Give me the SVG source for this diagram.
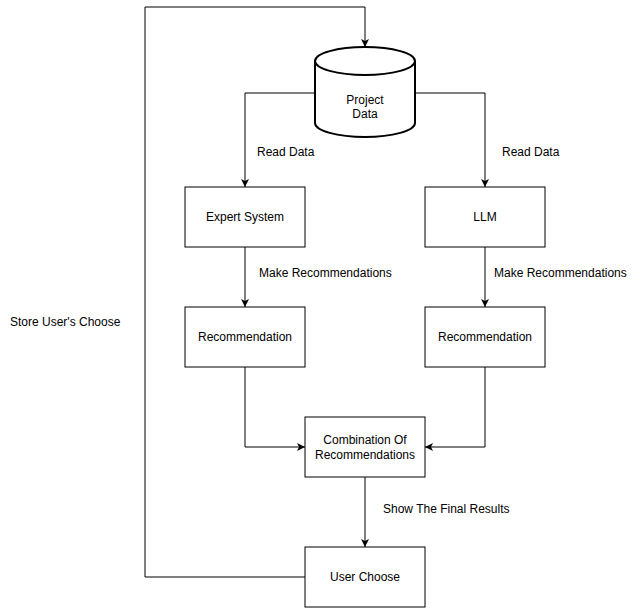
<svg xmlns="http://www.w3.org/2000/svg" width="640" height="608" viewBox="0 0 640 608">
<style>
.box{fill:#fff;stroke:#000;stroke-width:1}
.cyl{fill:#fff;stroke:#000;stroke-width:2}
.edge{fill:none;stroke:#000;stroke-width:1}
text{font-family:"Liberation Sans",Arial,sans-serif;font-size:12px;fill:#000}
.c{text-anchor:middle}
</style>
<defs>
<marker id="arr" viewBox="0 0 10 10" refX="10" refY="5" markerWidth="8" markerHeight="8" markerUnits="userSpaceOnUse" orient="auto">
<path d="M0,0 L10,5 L0,10 L2.5,5 Z" fill="#000"/>
</marker>
</defs>
<rect width="640" height="608" fill="#fff"/>
<g id="connectors">
<path class="edge" d="M305,577 H145 V7 H365 V47" marker-end="url(#arr)"/>
<path class="edge" d="M315,93 H245 V187" marker-end="url(#arr)"/>
<path class="edge" d="M415,93 H485 V187" marker-end="url(#arr)"/>
<path class="edge" d="M245,247 V307" marker-end="url(#arr)"/>
<path class="edge" d="M485,247 V307" marker-end="url(#arr)"/>
<path class="edge" d="M245,367 V447 H305" marker-end="url(#arr)"/>
<path class="edge" d="M485,367 V447 H425" marker-end="url(#arr)"/>
<path class="edge" d="M365,477 V547" marker-end="url(#arr)"/>
<text x="257" y="156">Read Data</text>
<text x="502" y="156">Read Data</text>
<text x="259" y="277">Make Recommendations</text>
<text x="494" y="277">Make Recommendations</text>
<text x="383" y="513">Show The Final Results</text>
<text x="10" y="326">Store User's Choose</text>
</g>
<g id="project-data">
<path class="cyl" d="M315,61 A50,14 0 0 1 415,61 V123 A50,14 0 0 1 315,123 Z"/>
<path class="cyl" d="M315,61 A50,14 0 0 0 415,61"/>
<text class="c" x="365" y="104">Project</text>
<text class="c" x="365" y="118">Data</text>
</g>
<g id="expert-system">
<rect class="box" x="185" y="187" width="120" height="60"/>
<text class="c" x="245" y="221">Expert System</text>
</g>
<g id="llm">
<rect class="box" x="425" y="187" width="120" height="60"/>
<text class="c" x="485" y="221">LLM</text>
</g>
<g id="recommendation-1">
<rect class="box" x="185" y="307" width="120" height="60"/>
<text class="c" x="245" y="341">Recommendation</text>
</g>
<g id="recommendation-2">
<rect class="box" x="425" y="307" width="120" height="60"/>
<text class="c" x="485" y="341">Recommendation</text>
</g>
<g id="combination">
<rect class="box" x="305" y="417" width="120" height="60"/>
<text class="c" x="365" y="444">Combination Of</text>
<text class="c" x="365" y="459">Recommendations</text>
</g>
<g id="user-choose">
<rect class="box" x="305" y="547" width="120" height="60"/>
<text class="c" x="365" y="581">User Choose</text>
</g>
</svg>
